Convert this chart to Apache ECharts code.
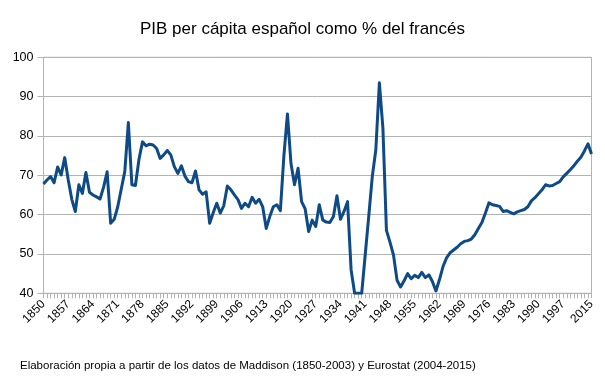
<!DOCTYPE html>
<html>
<head>
<meta charset="utf-8">
<script src="https://cdn.jsdelivr.net/npm/echarts@6/dist/echarts.min.js"></script>
<style>
html,body{margin:0;padding:0;background:#fff;}
#chart{width:605px;height:383px;}
</style>
</head>
<body>
<div id="chart"></div>
<script>
var titleText = "PIB per cápita español como % del francés";
var footerText = "Elaboración propia a partir de los datos de Maddison (1850-2003) y Eurostat (2004-2015)";

var years = [
"1850","1851","1852","1853","1854","1855","1856","1857","1858","1859",
"1860","1861","1862","1863","1864","1865","1866","1867","1868","1869",
"1870","1871","1872","1873","1874","1875","1876","1877","1878","1879",
"1880","1881","1882","1883","1884","1885","1886","1887","1888","1889",
"1890","1891","1892","1893","1894","1895","1896","1897","1898","1899",
"1900","1901","1902","1903","1904","1905","1906","1907","1908","1909",
"1910","1911","1912","1913","1914","1915","1916","1917","1918","1919",
"1920","1921","1922","1923","1924","1925","1926","1927","1928","1929",
"1930","1931","1932","1933","1934","1935","1936","1937","1938","1939",
"1940","1941","1942","1943","1944","1945","1946","1947","1948","1949",
"1950","1951","1952","1953","1954","1955","1956","1957","1958","1959",
"1960","1961","1962","1963","1964","1965","1966","1967","1968","1969",
"1970","1971","1972","1973","1974","1975","1976","1977","1978","1979",
"1980","1981","1982","1983","1984","1985","1986","1987","1988","1989",
"1990","1991","1992","1993","1994","1995","1996","1997","1998","1999",
"2000","2001","2002","2003","2004","2015"
];

var pibRatio = [
67.8, 68.8, 69.7, 68.1, 72.1, 70.1, 74.5, 68.8, 63.9, 60.8,
67.6, 65.4, 70.7, 65.7, 65.0, 64.5, 64.0, 67.0, 70.9, 57.8,
58.8, 62.0, 66.5, 71.0, 83.4, 67.6, 67.4, 74.0, 78.5, 77.5,
77.9, 77.7, 76.8, 74.3, 75.2, 76.3, 75.2, 72.2, 70.5, 72.4,
69.8, 68.4, 68.1, 71.1, 66.3, 65.2, 65.8, 57.8, 60.5, 62.9,
60.4, 62.3, 67.3, 66.3, 65.0, 63.8, 61.6, 62.9, 62.0, 64.4,
62.9, 63.9, 62.0, 56.5, 59.5, 62.0, 62.5, 61.0, 75.0, 85.6,
73.0, 67.6, 71.8, 63.3, 61.5, 55.7, 58.6, 57.0, 62.5, 58.6,
58.1, 58.0, 59.5, 64.8, 58.8, 60.8, 63.3, 46.0, 40.0, 40.0,
40.0, 49.8, 59.6, 69.7, 76.5, 93.5, 82.0, 56.0, 53.0, 49.7,
43.3, 41.6, 43.2, 45.0, 43.7, 44.6, 44.0, 45.3, 44.0, 44.7,
43.0, 40.6, 43.5, 46.8, 49.0, 50.3, 51.0, 51.7, 52.6, 53.2,
53.4, 53.8, 54.9, 56.5, 58.0, 60.4, 63.0, 62.5, 62.3, 62.1,
60.8, 61.0, 60.6, 60.2, 60.7, 61.0, 61.3, 62.0, 63.5, 64.3,
65.3, 66.3, 67.6, 67.3, 67.4, 67.9, 68.4, 69.6, 70.5, 71.4,
72.4, 73.6, 74.6, 76.2, 78.0, 75.4
];

var yMin = 40, yMax = 100, yStep = 10;

var chart = echarts.init(document.getElementById('chart'), null, {renderer: 'canvas'});
var FONT = '"Liberation Sans", Arial, sans-serif';
var lastIdx = years.length - 1;

chart.setOption({
  animation: false,
  backgroundColor: '#ffffff',
  textStyle: {fontFamily: FONT},
  title: [{
    text: titleText,
    left: 'center',
    top: 16,
    textStyle: {fontFamily: FONT, fontSize: 17, fontWeight: 'normal', color: '#000'}
  }, {
    text: footerText,
    left: 15,
    top: 355,
    textStyle: {fontFamily: FONT, fontSize: 11.5, fontWeight: 'normal', color: '#000'}
  }],
  grid: {
    left: 43.5, right: 13.5, top: 57.3, bottom: 89.7,
    show: true, borderColor: '#b3b3b3', borderWidth: 1,
    containLabel: false
  },
  xAxis: {
    type: 'category',
    data: years,
    boundaryGap: false,
    axisLine: {lineStyle: {color: '#b3b3b3', width: 1}},
    axisTick: {show: true, interval: 0, length: 5, lineStyle: {color: '#b3b3b3'}},
    axisLabel: {
      interval: function (i) { return (i % 7 === 0 && i < lastIdx - 1) || i === lastIdx; },
      rotate: 45,
      margin: 9,
      color: '#000',
      fontFamily: FONT,
      fontSize: 12
    },
    splitLine: {show: false}
  },
  yAxis: {
    type: 'value',
    min: yMin, max: yMax, interval: yStep,
    axisLine: {show: true, lineStyle: {color: '#b3b3b3', width: 1}},
    axisTick: {show: true, length: 6, lineStyle: {color: '#b3b3b3'}},
    axisLabel: {color: '#000', fontFamily: FONT, fontSize: 12.5, margin: 10},
    splitLine: {show: true, lineStyle: {color: '#b3b3b3', width: 1}}
  },
  series: [{
    type: 'line',
    data: pibRatio,
    showSymbol: false,
    symbol: 'none',
    clip: true,
    lineStyle: {color: '#0d4a86', width: 3, join: 'round'},
    itemStyle: {color: '#0d4a86'}
  }]
});
</script>
</body>
</html>
